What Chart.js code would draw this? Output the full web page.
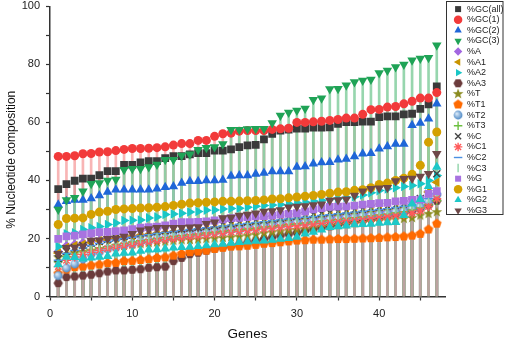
<!DOCTYPE html>
<html><head><meta charset="utf-8">
<script src="https://cdn.jsdelivr.net/npm/chart.js@4.4.1/dist/chart.umd.min.js"></script>
<style>html,body{margin:0;padding:0;background:#fff;overflow:hidden}</style>
</head><body>
<canvas id="c" width="505" height="342"></canvas>
<script>
const genes = [1,2,3,4,5,6,7,8,9,10,11,12,13,14,15,16,17,18,19,20,21,22,23,24,25,26,27,28,29,30,31,32,33,34,35,36,37,38,39,40,41,42,43,44,45,46,47];

const gcAll = [37.0,38.7,39.9,40.6,40.6,41.8,43.2,43.2,45.4,45.4,46.2,46.7,46.7,47.7,48.4,48.4,49.0,49.4,49.4,50.3,50.3,50.7,51.5,52.1,52.3,54.2,56.1,57.2,57.5,57.9,57.9,58.2,58.2,58.3,59.5,60.1,60.1,60.3,60.3,61.8,62.1,62.1,62.8,63.0,64.7,66.2,72.4];
const gc1 = [48.3,48.3,48.5,49.2,49.3,49.8,49.9,50.3,50.7,51.0,51.0,51.1,51.3,51.6,52.2,52.7,52.7,53.8,53.8,55.2,56.1,56.3,57.0,57.2,57.2,57.2,57.6,57.8,58.0,60.0,60.0,60.2,60.4,60.7,61.0,61.5,61.5,62.8,64.4,64.5,65.3,65.5,66.4,67.3,68.4,68.4,70.3];
const gc2 = [31.6,32.8,33.3,33.3,33.8,34.8,36.0,36.8,36.8,36.8,36.8,36.8,37.1,37.7,37.9,39.1,39.7,39.7,40.0,40.0,40.2,41.5,41.7,41.7,42.2,42.6,43.1,43.1,43.1,44.6,44.8,45.8,46.2,46.3,47.1,47.4,48.3,49.2,49.4,50.9,51.7,52.6,52.6,59.0,59.8,61.3,66.4];
const gc3 = [30.0,33.3,34.0,36.3,38.9,39.1,40.0,40.3,43.7,44.0,44.0,44.6,45.5,47.1,47.1,48.6,49.0,50.6,51.3,51.5,52.6,57.5,57.5,57.7,57.8,57.8,59.8,62.4,63.4,64.1,64.8,67.8,68.3,71.5,71.6,72.8,73.9,74.5,74.8,77.0,77.9,79.1,80.0,81.4,82.0,82.3,86.6];
const pA = [15.5,17.5,18.0,18.5,19.0,19.4,19.8,20.2,20.5,20.8,21.1,21.4,21.7,22.0,22.2,22.4,22.6,22.8,23.0,23.2,23.4,23.6,23.9,24.2,24.5,24.8,25.1,25.4,25.7,26.0,26.3,26.6,26.9,27.2,27.5,27.8,28.1,28.4,28.7,29.0,29.3,29.6,29.9,30.3,31.0,32.5,35.0];
const pA1 = [15.0,17.0,17.6,18.0,18.6,19.2,19.6,20.0,20.4,20.8,21.1,21.4,21.7,22.0,22.3,22.6,22.8,23.0,23.3,23.6,23.9,24.2,24.5,24.8,25.1,25.4,25.7,26.0,26.3,26.6,26.9,27.2,27.5,27.8,28.1,28.4,28.7,29.0,29.3,29.6,29.9,30.2,30.6,31.2,32.5,36.0,39.4];
const pA2 = [17.2,21.6,22.0,23.1,23.7,24.1,24.8,25.3,26.2,26.3,26.4,27.1,27.4,28.3,28.4,28.7,29.1,29.3,29.7,29.8,30.2,30.3,30.4,30.8,31.1,31.4,31.5,31.7,32.0,32.3,32.6,32.9,33.2,33.5,33.8,34.1,34.4,35.0,35.8,36.5,37.1,37.5,37.9,38.3,38.9,40.0,41.7];
const pA3 = [4.6,6.7,6.9,7.2,7.5,8.0,8.6,9.0,9.0,9.2,9.4,9.9,10.1,10.3,12.2,13.3,14.6,15.1,15.8,16.5,17.0,17.4,18.0,18.6,19.2,19.8,20.4,21.0,21.5,22.0,22.6,23.2,23.7,24.2,24.7,25.2,25.7,26.2,26.7,27.2,27.7,28.3,28.9,29.5,30.3,31.5,33.0];
const pT = [13.5,14.5,15.0,15.4,15.8,16.2,16.7,17.0,17.4,17.8,18.1,18.4,18.7,19.0,19.2,19.4,19.5,19.7,19.8,20.0,20.2,20.4,20.6,21.0,21.3,21.8,22.1,22.4,22.8,23.0,23.3,23.7,24.0,24.3,24.6,24.9,25.2,25.4,25.7,26.0,26.3,26.6,26.8,27.1,27.9,28.5,29.1];
const pT1 = [7.9,9.3,10.1,10.3,10.7,11.0,11.5,11.6,12.2,12.3,12.6,12.9,13.3,13.5,14.1,14.7,15.3,15.5,15.8,16.4,16.8,17.2,17.3,17.5,17.8,18.2,18.4,18.7,19.0,19.3,19.4,19.6,19.6,19.7,19.8,19.8,19.9,20.0,20.1,20.2,20.4,20.5,20.7,21.0,21.6,23.1,25.1];
const pT2 = [7.2,9.8,11.2,12.9,14.6,15.3,16.4,16.9,17.7,18.1,18.9,19.2,19.9,20.1,20.7,21.0,21.2,21.7,21.8,22.3,22.4,22.9,23.0,23.5,23.6,24.1,24.2,24.7,24.8,25.3,25.4,25.9,26.0,26.5,26.6,27.1,27.2,27.7,27.8,28.3,28.5,29.1,29.4,30.3,30.9,32.6,35.1];
const pT3 = [12.0,13.8,14.6,15.4,16.1,16.8,17.2,17.9,18.3,18.8,19.2,19.6,20.0,20.3,20.7,21.0,21.3,21.5,21.9,22.1,22.4,22.7,23.0,23.2,23.5,23.9,24.1,24.4,24.8,25.0,25.3,25.7,26.0,26.2,26.5,26.9,27.2,27.4,27.8,28.1,28.4,28.8,29.2,29.8,30.5,31.6,33.0];
const pC = [13.0,15.5,16.8,17.6,18.4,19.0,19.7,20.2,20.7,21.1,21.6,22.0,22.3,22.7,23.0,23.3,23.6,23.9,24.2,24.5,24.8,25.1,25.4,25.7,26.0,26.4,26.7,27.0,27.4,27.7,28.0,28.3,28.6,28.9,29.2,29.5,29.8,30.1,30.4,30.8,31.1,31.5,31.9,32.6,33.8,35.5,42.3];
const pC1 = [10.3,12.5,13.6,14.5,15.2,15.9,16.5,17.0,17.5,17.9,18.4,18.8,19.2,19.6,19.9,20.3,20.6,20.9,21.2,21.6,21.9,22.2,22.5,22.7,23.0,23.3,23.6,23.9,24.2,24.4,24.7,25.0,25.2,25.5,25.8,26.1,26.3,26.6,26.9,27.2,27.5,27.8,28.2,28.7,29.5,31.0,33.7];
const pC2 = [12.5,14.8,15.9,16.8,17.6,18.3,18.9,19.5,20.0,20.4,20.9,21.3,21.7,22.1,22.4,22.8,23.1,23.4,23.7,24.0,24.3,24.6,24.9,25.2,25.5,25.8,26.1,26.4,26.7,27.0,27.3,27.6,27.9,28.2,28.5,28.8,29.1,29.4,29.7,30.0,30.3,30.7,31.1,31.7,32.5,33.8,35.5];
const pC3 = [11.0,13.2,14.4,15.3,16.2,17.0,17.7,18.3,18.8,19.3,19.8,20.2,20.6,21.0,21.4,21.8,22.1,22.4,22.7,23.0,23.4,23.7,24.0,24.3,24.6,25.0,25.3,25.6,25.9,26.2,26.5,26.8,27.1,27.4,27.8,28.1,28.4,28.7,29.0,29.4,29.8,30.2,30.7,31.3,32.2,33.8,36.0];
const pG = [19.9,20.7,21.0,21.4,21.8,22.2,22.3,22.5,22.8,23.2,23.7,23.9,24.1,24.5,25.1,25.6,25.6,25.7,25.9,26.2,26.6,27.0,27.1,27.4,27.6,27.7,27.9,28.2,28.5,28.7,29.3,30.0,30.5,30.9,31.0,31.1,31.3,31.7,31.9,32.2,32.3,32.8,33.0,33.3,33.4,35.4,36.3];
const pG1 = [24.8,26.9,27.0,27.1,28.3,29.1,29.4,30.0,30.2,30.3,30.5,30.6,30.8,31.0,31.4,31.8,32.2,32.3,32.5,32.6,32.8,32.8,32.9,33.0,33.1,33.3,33.6,33.7,34.0,34.3,34.6,34.8,35.2,35.6,36.0,36.1,36.6,36.8,37.5,38.6,39.1,40.0,40.8,42.1,45.2,53.2,56.7];
const pG2 = [11.0,13.6,13.5,13.0,13.4,13.6,13.9,14.7,15.0,15.1,15.7,16.1,16.2,16.5,16.8,17.0,17.1,17.3,17.6,17.9,18.1,18.4,18.7,18.9,19.1,19.2,19.5,19.8,20.1,20.5,21.6,22.2,23.0,23.9,24.1,24.4,24.8,24.9,25.0,25.3,25.5,25.6,28.0,32.0,33.5,38.0,44.6];
const pG3 = [14.7,16.8,16.9,17.2,19.3,19.4,19.9,20.0,20.7,21.6,22.8,23.3,23.7,23.7,23.7,23.7,23.9,24.0,25.1,25.6,27.1,27.2,27.9,28.3,28.7,29.3,29.5,29.8,30.8,31.0,31.2,31.5,31.8,33.1,33.3,33.5,34.8,36.3,37.1,37.3,37.5,39.8,40.6,40.7,41.4,42.3,49.2];

const seriesNames = ['%GC(all)','%GC(1)','%GC(2)','%GC(3)','%A','%A1','%A2','%A3','%T','%T1','%T2','%T3','%C','%C1','%C2','%C3','%G','%G1','%G2','%G3'];
const seriesValues = [gcAll,gc1,gc2,gc3,pA,pA1,pA2,pA3,pT,pT1,pT2,pT3,pC,pC1,pC2,pC3,pG,pG1,pG2,pG3];

// ---- marker images ----
function polyCanvas(n, rOut, rIn, color, startAngle) {
  const s = 14, c = document.createElement('canvas');
  c.width = s; c.height = s;
  const g = c.getContext('2d');
  g.fillStyle = color;
  g.beginPath();
  const pts = rIn ? n * 2 : n;
  for (let k = 0; k < pts; k++) {
    const r = rIn ? (k % 2 ? rIn : rOut) : rOut;
    const a = startAngle + k * 2 * Math.PI / pts;
    const x = s / 2 + r * Math.cos(a), y = s / 2 + r * Math.sin(a);
    k ? g.lineTo(x, y) : g.moveTo(x, y);
  }
  g.closePath(); g.fill();
  return c;
}
function sphereCanvas() {
  const s = 12, c = document.createElement('canvas');
  c.width = s; c.height = s;
  const g = c.getContext('2d');
  const gr = g.createRadialGradient(4.5, 4.5, 0.5, 6, 6, 5);
  gr.addColorStop(0, '#d8e8f8'); gr.addColorStop(1, '#3f7fc0');
  g.fillStyle = gr; g.beginPath(); g.arc(6, 6, 4.4, 0, 2 * Math.PI); g.fill();
  return c;
}
const starImg = polyCanvas(5, 5.6, 2.3, '#8a8a1e', -Math.PI / 2);
const pentImg = polyCanvas(5, 5.0, 0, '#ff6a00', -Math.PI / 2);
const hexImg = polyCanvas(6, 4.7, 0, '#6b3b3b', 0);
const sphImg = sphereCanvas();

const styles = [
  {c:'#3a3a3a', ps:'rect', r:5.5, rot:0, line:'rgba(90,90,90,0.35)'},
  {c:'#f23a3a', ps:'circle', r:4.5, rot:0, line:'rgba(242,120,120,0.55)'},
  {c:'#1f66d8', ps:'triangle', r:5.5, rot:0, line:'rgba(31,102,216,0.35)'},
  {c:'#1fa356', ps:'triangle', r:5.5, rot:180, line:'rgba(140,210,165,0.9)'},
  {c:'#a266e0', ps:'rectRot', r:4.8, rot:0, line:'rgba(162,102,224,0.35)'},
  {c:'#c89400', ps:'triangle', r:5.5, rot:270, line:'rgba(200,148,0,0.35)'},
  {c:'#19c6c6', ps:'triangle', r:5.5, rot:90, line:'rgba(25,198,198,0.35)'},
  {c:'#6b3b3b', ps:hexImg, r:5, rot:0, line:'rgba(190,160,160,0.95)'},
  {c:'#8a8a1e', ps:starImg, r:5, rot:0, line:'rgba(138,138,30,0.35)'},
  {c:'#ff6a00', ps:pentImg, r:5, rot:0, line:'rgba(255,106,0,0.35)'},
  {c:'#4a88c8', ps:sphImg, r:5, rot:0, line:'rgba(74,136,200,0.35)'},
  {c:'#6cc040', ps:'cross', r:4.5, rot:0, line:'rgba(108,192,64,0.35)'},
  {c:'#444444', ps:'crossRot', r:5, rot:0, line:'rgba(68,68,68,0.35)'},
  {c:'#ff5a5a', ps:'star', r:4.5, rot:0, line:'rgba(255,90,90,0.35)'},
  {c:'#4a90e2', ps:'line', r:4.5, rot:0, line:'rgba(74,144,226,0.35)'},
  {c:'#8fd4a8', ps:'line', r:4.5, rot:90, line:'rgba(143,212,168,0.35)'},
  {c:'#a873e0', ps:'rect', r:5.5, rot:0, line:'rgba(168,115,224,0.35)'},
  {c:'#d4a000', ps:'circle', r:4.5, rot:0, line:'rgba(225,190,90,0.9)'},
  {c:'#1ec8c8', ps:'triangle', r:5.5, rot:0, line:'rgba(30,200,200,0.35)'},
  {c:'#6e4848', ps:'triangle', r:5.5, rot:180, line:'rgba(110,72,72,0.35)'}
];

const N = seriesNames.length;
// drop-line drawing sequence (last drawn = on top)
const lineRank = [0,1,2,4,5,6,8,9,10,11,12,13,14,15,16,17,18,19,3,7];

const datasets = [];
seriesNames.forEach((name, i) => {
  const st = styles[i];
  datasets.push({
    type: 'line', label: name, showLine: false,
    data: genes.map((g, k) => ({x: g, y: seriesValues[i][k]})),
    pointStyle: st.ps, pointRotation: st.rot, rotation: st.rot,
    pointRadius: st.r, pointHoverRadius: st.r,
    backgroundColor: st.c, borderColor: st.c,
    pointBorderWidth: (st.ps === 'cross' || st.ps === 'crossRot' || st.ps === 'star' || st.ps === 'line') ? 1.4 : 0,
    borderWidth: 1.4,
    order: N - i
  });
});
seriesNames.forEach((name, i) => {
  const st = styles[i];
  datasets.push({
    type: 'bar', label: 'drop ' + name,
    data: genes.map((g, k) => ({x: g, y: seriesValues[i][k]})),
    backgroundColor: st.line, borderWidth: 0,
    barThickness: 2, grouped: false,
    order: 1000 - lineRank.indexOf(i)
  });
});

const legendBox = {
  id: 'legendBox',
  beforeLayout(chart) {
    const lg = chart.legend;
    if (lg && !lg._fixed) {
      const f = lg.fit.bind(lg);
      lg.fit = function () { f(); this.width = 60; };
      lg._fixed = true;
    }
  },
  afterLayout(chart) {
    const lg = chart.legend;
    const h = lg.bottom - lg.top;
    lg.left = 452; lg.right = 505;
    lg.top = 3; lg.bottom = 3 + h;
  },
  afterDraw(chart) {
    const ctx = chart.ctx;
    ctx.save();
    ctx.strokeStyle = '#333'; ctx.lineWidth = 1;
    ctx.strokeRect(446.5, 1.5, 56.5, 213);
    ctx.restore();
  }
};

Chart.defaults.font.family = "'Liberation Sans', Arial, sans-serif";

new Chart(document.getElementById('c'), {
  data: { datasets },
  options: {
    responsive: false, animation: false,
    layout: { padding: { top: 6, right: 0, bottom: 0, left: 0 } },
    plugins: {
      tooltip: { enabled: false },
      legend: {
        position: 'right', align: 'start',
        labels: {
          usePointStyle: true, boxWidth: 9, boxHeight: 6, padding: 1.6,
          color: '#222', font: { size: 9 },
          filter: item => item.datasetIndex < N,
          sort: (a, b) => a.datasetIndex - b.datasetIndex
        }
      }
    },
    scales: {
      x: {
        type: 'linear', min: 0, max: 48, offset: false,
        afterFit: s => { s.height = 45.5; s.paddingLeft = 0; s.paddingRight = 0; },
        ticks: { stepSize: 5, includeBounds: false, autoSkip: false, maxRotation: 0,
          callback: v => (v % 10 === 0 ? v : ''), color: '#222', font: { size: 11 }, padding: 7 },
        grid: { drawOnChartArea: false, drawTicks: true, tickLength: 4, tickColor: '#333', tickWidth: 1.2, offset: false },
        border: { display: true, color: '#333', width: 1.5 },
        title: { display: true, text: 'Genes', color: '#111', font: { size: 13.5 }, padding: { top: 4, bottom: 0 } }
      },
      y: {
        type: 'linear', min: 0, max: 100,
        afterFit: s => { s.width = 50; s.paddingTop = 0; s.paddingBottom = 0; },
        ticks: { stepSize: 10, autoSkip: false,
          callback: v => (v % 20 === 0 ? v : ''), color: '#222', font: { size: 11 }, padding: 6 },
        grid: { drawOnChartArea: false, drawTicks: true, tickLength: 4, tickColor: '#333', tickWidth: 1.2 },
        border: { display: true, color: '#333', width: 1.5 },
        title: { display: true, text: '% Nucleotide composition     ', color: '#111', font: { size: 12 }, padding: { top: 4, bottom: 4 } }
      }
    }
  },
  plugins: [legendBox]
});
</script>
</body></html>
